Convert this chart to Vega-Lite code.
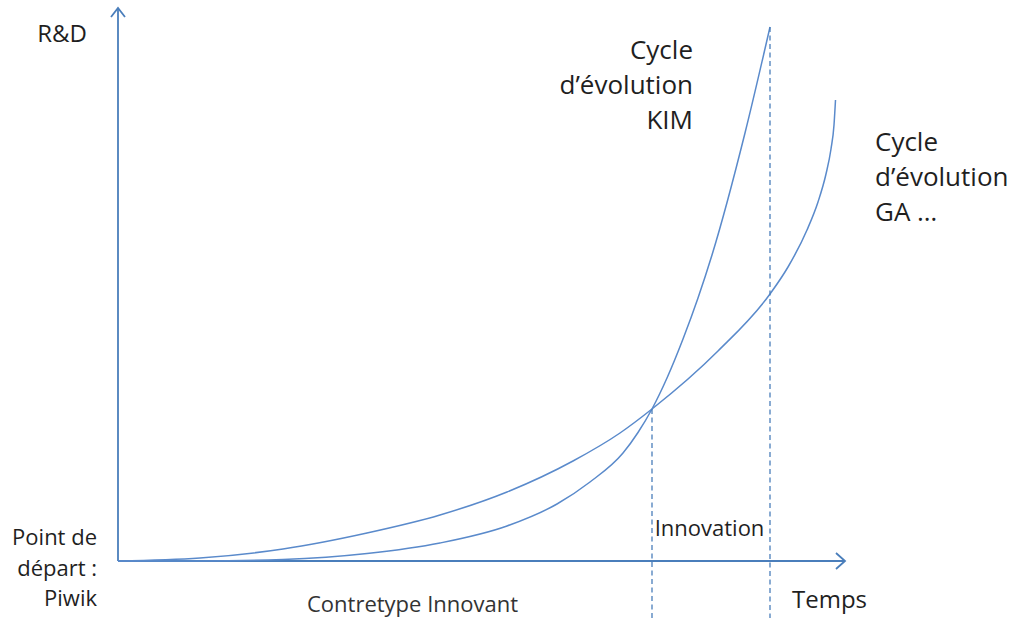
{
  "$schema": "https://vega.github.io/schema/vega-lite/v6.json",
  "width": 1013,
  "height": 620,
  "autosize": {"type": "fit", "contains": "padding"},
  "padding": 0,
  "background": "white",
  "config": {"view": {"stroke": null}, "text": {"font": "Open Sans", "color": "#1f1f1f"}},
  "encoding": {
    "x": {"field": "t", "type": "quantitative", "scale": {"domain": [-118, 895], "nice": false, "zero": false}, "axis": null},
    "y": {"field": "rd", "type": "quantitative", "scale": {"domain": [-59, 561], "nice": false, "zero": false}, "axis": null}
  },
  "layer": [
    {
      "data": {"values": [
        {"part": "yaxis", "o": 0, "t": 0, "rd": 0},
        {"part": "yaxis", "o": 1, "t": 0, "rd": 553},
        {"part": "yarrow", "o": 0, "t": -7, "rd": 544},
        {"part": "yarrow", "o": 1, "t": 0, "rd": 553},
        {"part": "yarrow", "o": 2, "t": 7, "rd": 544},
        {"part": "xaxis", "o": 0, "t": 0, "rd": 0},
        {"part": "xaxis", "o": 1, "t": 727, "rd": 0},
        {"part": "xarrow", "o": 0, "t": 718, "rd": 8},
        {"part": "xarrow", "o": 1, "t": 727, "rd": 0},
        {"part": "xarrow", "o": 2, "t": 718, "rd": -8}
      ]},
      "mark": {"type": "line", "color": "#4a7ebb", "strokeWidth": 1.8, "strokeJoin": "miter"},
      "encoding": {"detail": {"field": "part"}, "order": {"field": "o", "type": "quantitative"}}
    },
    {
      "data": {"values": [
        {"cycle": "KIM", "t": 0, "rd": 0},
        {"cycle": "KIM", "t": 82, "rd": 0},
        {"cycle": "KIM", "t": 165, "rd": 1.5},
        {"cycle": "KIM", "t": 249, "rd": 7.5},
        {"cycle": "KIM", "t": 322, "rd": 18},
        {"cycle": "KIM", "t": 389, "rd": 35},
        {"cycle": "KIM", "t": 439, "rd": 57},
        {"cycle": "KIM", "t": 472, "rd": 79},
        {"cycle": "KIM", "t": 505, "rd": 108},
        {"cycle": "KIM", "t": 520, "rd": 128.5},
        {"cycle": "KIM", "t": 534, "rd": 152},
        {"cycle": "KIM", "t": 549, "rd": 183},
        {"cycle": "KIM", "t": 565, "rd": 222},
        {"cycle": "KIM", "t": 580, "rd": 263},
        {"cycle": "KIM", "t": 594, "rd": 306},
        {"cycle": "KIM", "t": 627, "rd": 428},
        {"cycle": "KIM", "t": 652, "rd": 534},
        {"cycle": "GA", "t": 0, "rd": 0},
        {"cycle": "GA", "t": 82, "rd": 3},
        {"cycle": "GA", "t": 165, "rd": 12},
        {"cycle": "GA", "t": 249, "rd": 28},
        {"cycle": "GA", "t": 322, "rd": 46},
        {"cycle": "GA", "t": 389, "rd": 69},
        {"cycle": "GA", "t": 455, "rd": 100},
        {"cycle": "GA", "t": 502, "rd": 128},
        {"cycle": "GA", "t": 534, "rd": 152},
        {"cycle": "GA", "t": 600, "rd": 210},
        {"cycle": "GA", "t": 652, "rd": 267},
        {"cycle": "GA", "t": 670, "rd": 294},
        {"cycle": "GA", "t": 689, "rd": 331},
        {"cycle": "GA", "t": 700, "rd": 359},
        {"cycle": "GA", "t": 708, "rd": 387},
        {"cycle": "GA", "t": 713, "rd": 412},
        {"cycle": "GA", "t": 716, "rd": 436},
        {"cycle": "GA", "t": 717.5, "rd": 461}
      ]},
      "mark": {"type": "line", "color": "#5a8acb", "strokeWidth": 1.5, "interpolate": "monotone"},
      "encoding": {"detail": {"field": "cycle"}}
    },
    {
      "data": {"values": [
        {"t": 534, "rd": 152, "rd2": -57},
        {"t": 652, "rd": 534, "rd2": -57}
      ]},
      "mark": {"type": "rule", "color": "#4a7ebb", "strokeWidth": 1.3, "strokeDash": [5, 3.5]},
      "encoding": {"y2": {"field": "rd2"}}
    },
    {
      "data": {"values": [
        {"label": "R&D", "t": -56, "rd": 519},
        {"label": "Temps", "t": 711.5, "rd": -47}
      ]},
      "mark": {"type": "text", "align": "center", "baseline": "alphabetic", "fontSize": 24},
      "encoding": {"text": {"field": "label"}}
    },
    {
      "data": {"values": [
        {"label": "Cycle\nd’évolution\nKIM", "t": 575, "rd": 502}
      ]},
      "mark": {"type": "text", "align": "right", "baseline": "alphabetic", "fontSize": 26, "lineHeight": 35, "lineBreak": "\n"},
      "encoding": {"text": {"field": "label"}}
    },
    {
      "data": {"values": [
        {"label": "Cycle\nd’évolution\nGA …", "t": 757, "rd": 410}
      ]},
      "mark": {"type": "text", "align": "left", "baseline": "alphabetic", "fontSize": 26, "lineHeight": 35, "lineBreak": "\n"},
      "encoding": {"text": {"field": "label"}}
    },
    {
      "data": {"values": [
        {"label": "Point de\ndépart :\nPiwik", "t": -21, "rd": 16}
      ]},
      "mark": {"type": "text", "align": "right", "baseline": "alphabetic", "fontSize": 22, "lineHeight": 30.5, "lineBreak": "\n"},
      "encoding": {"text": {"field": "label"}}
    },
    {
      "data": {"values": [
        {"label": "Innovation", "t": 591.5, "rd": 25}
      ]},
      "mark": {"type": "text", "align": "center", "baseline": "alphabetic", "fontSize": 22},
      "encoding": {"text": {"field": "label"}}
    },
    {
      "data": {"values": [
        {"label": "Contretype Innovant", "t": 294.5, "rd": -51}
      ]},
      "mark": {"type": "text", "align": "center", "baseline": "alphabetic", "fontSize": 22, "color": "#333333"},
      "encoding": {"text": {"field": "label"}}
    }
  ]
}
